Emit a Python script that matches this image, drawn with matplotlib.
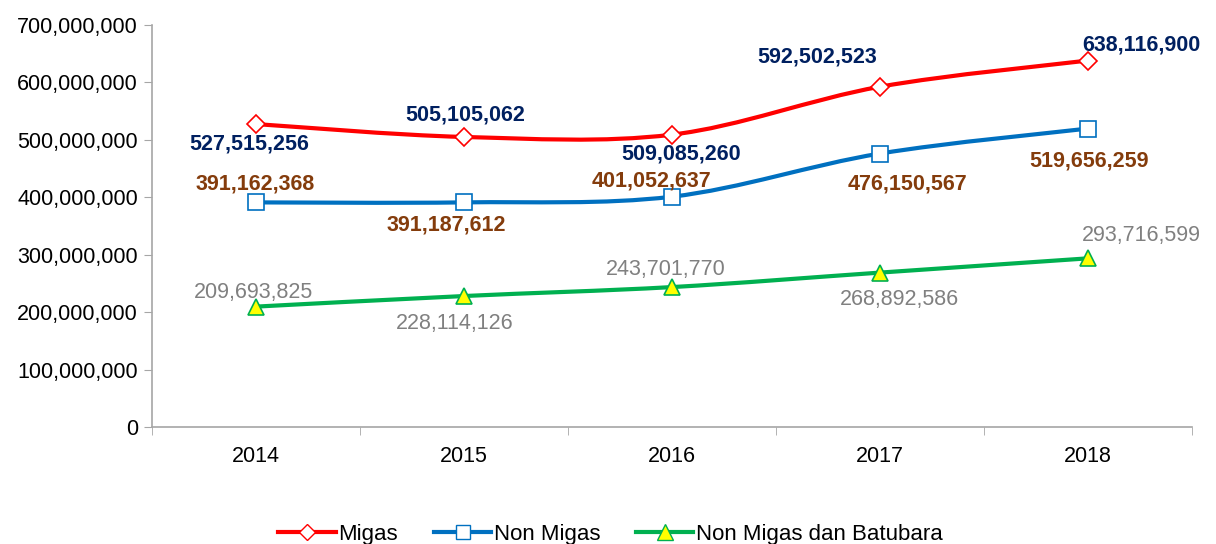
"""Migas / Non Migas / Non Migas dan Batubara, 2014-2018 (smoothed lines)."""

import matplotlib
matplotlib.use("Agg")
import matplotlib.pyplot as plt
from matplotlib.path import Path
from matplotlib.patches import PathPatch
from matplotlib.lines import Line2D
from matplotlib.ticker import FuncFormatter, MultipleLocator

years = ["2014", "2015", "2016", "2017", "2018"]
migas = [527515256, 505105062, 509085260, 592502523, 638116900]
non_migas = [391162368, 391187612, 401052637, 476150567, 519656259]
non_migas_batubara = [209693825, 228114126, 243701770, 268892586, 293716599]

# label offsets in pixels (dx, dy) relative to each point
OFF_MIGAS = [(-7, -20), (1, 22), (9, -19), (-63, 30), (54, 16)]
OFF_NONMIGAS = [(-1, 18), (-18, -23), (-20, 16), (28, -30), (1, -32)]
OFF_BATU = [(-2, 14), (-9, -27), (-6, 18), (20, -27), (54, 23)]

FONT = ["Liberation Sans", "DejaVu Sans"]
plt.rcParams["font.family"] = FONT


def smooth_path(xs, ys):
    # Excel-style smoothed line: cubic Bezier through the points
    n = len(xs)
    verts = [(xs[0], ys[0])]
    codes = [Path.MOVETO]
    for i in range(n - 1):
        p0 = (xs[max(i - 1, 0)], ys[max(i - 1, 0)])
        p1 = (xs[i], ys[i])
        p2 = (xs[i + 1], ys[i + 1])
        p3 = (xs[min(i + 2, n - 1)], ys[min(i + 2, n - 1)])
        c1 = (p1[0] + (p2[0] - p0[0]) / 6, p1[1] + (p2[1] - p0[1]) / 6)
        c2 = (p2[0] - (p3[0] - p1[0]) / 6, p2[1] - (p3[1] - p1[1]) / 6)
        verts += [c1, c2, p2]
        codes += [Path.CURVE4] * 3
    return Path(verts, codes)


fig = plt.figure(figsize=(12.16, 5.44), dpi=100)
ax = fig.add_axes([0.125, 0.215, 0.855, 0.739])

x = list(range(len(years)))
series = [
    (migas, "#FF0000", "D", "white", "#FF0000", 9, "Migas", OFF_MIGAS, "#002060", "bold"),
    (non_migas, "#0070C0", "s", "white", "#0070C0", 11, "Non Migas", OFF_NONMIGAS, "#843C0C", "bold"),
    (non_migas_batubara, "#00B050", "^", "#FFFF00", "#00B050", 12,
     "Non Migas dan Batubara", OFF_BATU, "#808080", "normal"),
]

handles = []
for ys, color, marker, mfc, mec, ms, label, offs, lcol, weight in series:
    ax.add_patch(PathPatch(smooth_path(x, ys), facecolor="none", edgecolor=color,
                           linewidth=3, zorder=2))
    ax.plot(x, ys, linestyle="none", marker=marker, markersize=ms,
            markerfacecolor=mfc, markeredgecolor=mec, markeredgewidth=1.2, zorder=3)
    for xi, yi, (dx, dy) in zip(x, ys, offs):
        ax.annotate(f"{yi:,}", (xi, yi), xytext=(dx, dy), textcoords="offset pixels",
                    ha="center", va="center", fontsize=15.5, color=lcol,
                    fontweight=weight, zorder=4)
    handles.append(Line2D([], [], color=color, linewidth=3, marker=marker,
                          markersize=ms - 1, markerfacecolor=mfc, markeredgecolor=mec,
                          label=label))

ax.set_xlim(-0.5, 4.5)
ax.set_ylim(0, 700000000)
ax.yaxis.set_major_locator(MultipleLocator(100000000))
ax.yaxis.set_major_formatter(FuncFormatter(lambda v, p: f"{int(v):,}"))
ax.set_xticks(x)
ax.set_xticklabels(years)
ax.set_xticks([i + 0.5 for i in range(-1, 5)], minor=True)

for s in ["top", "right"]:
    ax.spines[s].set_visible(False)
for s in ["left", "bottom"]:
    ax.spines[s].set_color("#A6A6A6")
    ax.spines[s].set_linewidth(1.2)

ax.tick_params(axis="y", which="major", length=6, color="#A6A6A6", labelsize=15.5,
               labelcolor="black", pad=4)
ax.tick_params(axis="x", which="major", length=0, labelsize=15.5, pad=14)
ax.tick_params(axis="x", which="minor", length=6, color="#A6A6A6")

leg = fig.legend(handles=handles, loc="center", bbox_to_anchor=(0.502, 0.018),
                 ncol=3, frameon=False, handlelength=2.6, handletextpad=0.1,
                 columnspacing=1.6,
                 prop={"family": FONT, "size": 16})

fig.savefig("out.png", dpi=100)
